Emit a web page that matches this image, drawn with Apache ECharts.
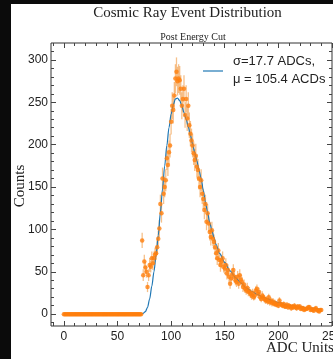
<!DOCTYPE html>
<html>
<head>
<meta charset="utf-8">
<script src="https://cdn.jsdelivr.net/npm/echarts@6/dist/echarts.min.js"></script>
<style>
html, body { margin: 0; padding: 0; background: #fff; overflow: hidden; }
.dark { position: absolute; background: #0b0b0b; }
#bgLeft { left: 0; top: 0; width: 11px; height: 359px; }
#bgTop { left: 0; top: 0; width: 333px; height: 4px; }
#chart { position: absolute; left: 0; top: 0; width: 333px; height: 359px; }
</style>
</head>
<body>
<div id="bgLeft" class="dark"></div>
<div id="bgTop" class="dark"></div>
<div id="chart"></div>
<script>
// counts per ADC bin, bins 0..240
const counts = [
  0, 0, 0, 0, 0, 0, 0, 0, 0, 0,
  0, 0, 0, 0, 0, 0, 0, 0, 0, 0,
  0, 0, 0, 0, 0, 0, 0, 0, 0, 0,
  0, 0, 0, 0, 0, 0, 0, 0, 0, 0,
  0, 0, 0, 0, 0, 0, 0, 0, 0, 0,
  0, 0, 0, 0, 0, 0, 0, 0, 0, 0,
  0, 0, 0, 0, 0, 0, 0, 0, 0, 0,
  0, 0, 0,
  87, 46, 62, 55, 50, 32, 46, 58, 56, 66,
  60, 66, 70, 72, 79, 89, 101, 130, 119, 160,
  142, 150, 158, 184, 176, 191, 199, 227, 246, 241,
  258, 278, 286, 275, 278, 276, 266, 246, 254, 266,
  235, 254, 231, 246, 223, 213, 205, 199, 190, 182,
  187, 174, 170, 160, 150, 158, 142, 136, 123, 130,
  109, 119, 107, 97, 91, 99, 89, 85, 79, 72,
  66, 75, 64, 58, 62, 66, 56, 54, 58, 48,
  52, 44, 36, 42, 47, 52, 44, 40, 38, 44,
  36, 46, 41, 38, 32, 35, 30, 28, 31, 26,
  27, 24, 22, 25, 20, 22, 28, 30, 24, 26,
  20, 18, 22, 20, 18, 16, 17, 15, 20, 14,
  16, 13, 15, 12, 13, 11, 12, 10, 16, 12,
  11, 10, 12, 9, 9, 11, 8, 10, 9, 7,
  9, 8, 10, 8, 7, 9, 8, 9, 6, 7,
  7, 5, 6, 6, 7, 8, 8, 5, 6, 5,
  4, 6, 7, 5, 4, 3, 5, 5
];
const errors = [
  0, 0, 0, 0, 0, 0, 0, 0, 0, 0,
  0, 0, 0, 0, 0, 0, 0, 0, 0, 0,
  0, 0, 0, 0, 0, 0, 0, 0, 0, 0,
  0, 0, 0, 0, 0, 0, 0, 0, 0, 0,
  0, 0, 0, 0, 0, 0, 0, 0, 0, 0,
  0, 0, 0, 0, 0, 0, 0, 0, 0, 0,
  0, 0, 0, 0, 0, 0, 0, 0, 0, 0,
  0, 0, 0,
  9, 7, 8, 7, 7, 6, 7, 8, 7, 8,
  8, 8, 8, 8, 9, 9, 10, 11, 11, 13,
  12, 12, 13, 14, 13, 14, 14, 15, 16, 16,
  16, 17, 17, 17, 17, 17, 16, 16, 16, 16,
  15, 16, 15, 16, 15, 15, 14, 14, 14, 13,
  14, 13, 13, 13, 12, 13, 12, 12, 11, 11,
  10, 11, 10, 10, 10, 10, 9, 9, 9, 8,
  8, 9, 8, 8, 8, 8, 7, 7, 8, 7,
  7, 7, 6, 6, 7, 7, 7, 6, 6, 7,
  6, 7, 6, 6, 6, 6, 5, 5, 6, 5,
  5, 5, 5, 5, 4, 5, 5, 5, 5, 5,
  4, 4, 5, 4, 4, 4, 4, 4, 4, 4,
  4, 4, 4, 3, 4, 3, 3, 3, 4, 3,
  3, 3, 3, 3, 3, 3, 3, 3, 3, 3,
  3, 3, 3, 3, 3, 3, 3, 3, 2, 3,
  3, 2, 2, 2, 3, 3, 3, 2, 2, 2,
  2, 2, 3, 2, 2, 2, 2, 2
];

// fitted curve
const fitX = [0, 72, 74, 76, 78, 80, 82, 84, 86, 88, 90, 92, 94, 96, 98, 100, 102, 104, 106, 108,
  110, 112, 114, 116, 118, 120, 122, 124, 126, 128, 130, 132, 134, 136, 138, 140, 142, 145,
  150, 155, 160, 165, 170, 175, 180, 185, 190, 195, 200, 210, 220, 230, 240];
const fitY = [0, 0, 1, 3, 8, 18, 33, 50, 70, 93, 120, 148, 175, 199, 220, 236, 247, 254, 255, 252,
  246, 238, 230, 221, 211, 201, 191, 181, 170, 160, 146, 132, 120, 108, 99, 90, 82, 72,
  61, 51, 43, 37, 31, 27, 23.5, 20.5, 18, 15.5, 13.5, 10.5, 8.5, 7, 5.5];

const xMajor = [0, 50, 100, 150, 200, 250];
const xMinor = [-10, 10, 20, 30, 40, 60, 70, 80, 90, 110, 120, 130, 140, 160, 170, 180, 190, 210, 220, 230, 240];
const yMajor = [0, 50, 100, 150, 200, 250, 300];
const yMinor = [-10, 10, 20, 30, 40, 60, 70, 80, 90, 110, 120, 130, 140, 160, 170, 180, 190,
  210, 220, 230, 240, 260, 270, 280, 290, 310];

const chart = echarts.init(document.getElementById('chart'));

const sans = 'Liberation Sans';

function tickAxis(kind, pos, values, len, withLabels) {
  const ax = {
    type: 'value',
    position: pos,
    min: kind === 'x' ? -12 : -14,
    max: kind === 'x' ? 250 : 320,
    axisLine: { show: false, onZero: false },
    splitLine: { show: false },
    axisTick: { show: true, inside: true, length: len, customValues: values, lineStyle: { color: '#444', width: 1 } },
    axisLabel: { show: false }
  };
  if (withLabels) {
    ax.axisLabel = { show: true, customValues: values, color: '#222', fontFamily: sans, fontSize: 12, margin: kind === 'x' ? 5 : 3 };
  }
  return ax;
}

const pts = counts.map((c, i) => [i, c]);
const bars = counts.map((c, i) => [i, c, errors[i]]);
const fit = fitX.map((x, i) => [x, fitY[i]]);

const option = {
  animation: false,
  backgroundColor: 'transparent',
  grid: {
    left: 51, right: 1, top: 43, bottom: 33,
    outerBoundsMode: 'none',
    show: true, borderColor: '#333', borderWidth: 1
  },
  xAxis: [
    tickAxis('x', 'bottom', xMajor, 5, true),
    tickAxis('x', 'bottom', xMinor, 3, false),
    tickAxis('x', 'top', xMajor, 5, false),
    tickAxis('x', 'top', xMinor, 3, false)
  ],
  yAxis: [
    tickAxis('y', 'left', yMajor, 5, true),
    tickAxis('y', 'left', yMinor, 3, false),
    tickAxis('y', 'right', yMajor, 5, false),
    tickAxis('y', 'right', yMinor, 3, false)
  ],
  series: [
    {
      type: 'custom',
      data: bars,
      clip: true,
      renderItem: function (params, api) {
        const e = api.value(2);
        if (!e) return null;
        const x = api.value(0), y = api.value(1);
        const a = api.coord([x, y + e]);
        const b = api.coord([x, y - e]);
        return {
          type: 'line',
          shape: { x1: a[0], y1: a[1], x2: b[0], y2: b[1] },
          style: { stroke: 'rgba(240,150,60,0.6)', lineWidth: 1.3 }
        };
      },
      z: 1
    },
    {
      type: 'line',
      data: fit,
      smooth: 0.3,
      smoothMonotone: 'x',
      showSymbol: false,
      lineStyle: { color: '#1f77b4', width: 1.2 },
      z: 2
    },
    {
      type: 'scatter',
      data: pts,
      symbolSize: 4.5,
      itemStyle: { color: '#ff7f0e' },
      z: 3
    }
  ],
  graphic: [
    { type: 'text', x: 187.5, y: 13.5, style: { text: 'Cosmic Ray Event Distribution', font: '15px "Liberation Serif"', fill: '#222', align: 'center', verticalAlign: 'middle' } },
    { type: 'text', x: 193, y: 37.5, style: { text: 'Post Energy Cut', font: '10px "Liberation Serif"', fill: '#222', align: 'center', verticalAlign: 'middle' } },
    { type: 'text', x: 20, y: 186, rotation: Math.PI / 2, style: { text: 'Counts', font: '15px "Liberation Serif"', fill: '#222', align: 'center', verticalAlign: 'middle' } },
    { type: 'text', x: 266, y: 348, style: { text: 'ADC Units', font: '15px "Liberation Serif"', fill: '#222', align: 'left', verticalAlign: 'middle' } },
    { type: 'line', shape: { x1: 203, y1: 71, x2: 223, y2: 71 }, style: { stroke: '#1f77b4', lineWidth: 1.2 } },
    { type: 'text', x: 233, y: 61.5, style: { text: 'σ=17.7 ADCs,', font: '13px "Liberation Sans"', fill: '#222', align: 'left', verticalAlign: 'middle' } },
    { type: 'text', x: 233, y: 79.5, style: { text: 'μ = 105.4 ACDs', font: '13px "Liberation Sans"', fill: '#222', align: 'left', verticalAlign: 'middle' } }
  ]
};

chart.setOption(option);
</script>
</body>
</html>
